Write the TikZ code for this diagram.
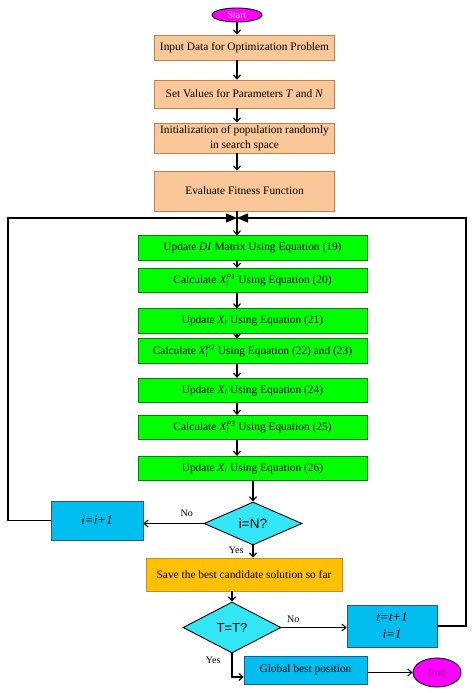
\documentclass[tikz,border=0pt]{standalone}
\usepackage{fontspec}
\setmainfont{Liberation Serif}
\newfontfamily\arialfont{Liberation Sans}
\usetikzlibrary{shapes.geometric,arrows.meta}
\definecolor{peach}{RGB}{250,200,152}
\definecolor{peachline}{RGB}{190,130,80}
\definecolor{lime}{RGB}{0,255,0}
\definecolor{limeline}{RGB}{0,130,0}
\definecolor{skyfill}{RGB}{0,190,240}
\definecolor{aquafill}{RGB}{50,230,245}
\definecolor{skyline}{RGB}{30,90,140}
\definecolor{gold}{RGB}{255,192,0}
\definecolor{goldline}{RGB}{200,140,40}
\definecolor{pinkfill}{RGB}{255,0,255}
\definecolor{plum}{RGB}{150,0,150}
\newcommand{\xsub}{$\mathit{X}_{\mathit{i}}$}
\newcommand{\xsup}[1]{$\mathit{X}_{\mathit{i}}^{\mathit{#1}}$}
\begin{document}
\begin{tikzpicture}[x=1pt, y=-1pt, line width=1.1pt,
  every node/.style={inner sep=0pt, font=\fontsize{11.4}{15}\selectfont},
  orangebox/.style={draw=peachline, line width=0.7pt, fill=peach, minimum width=180pt, align=center},
  greenbox/.style={draw=limeline, line width=0.7pt, fill=lime, minimum width=229pt, minimum height=24.5pt},
  bluebox/.style={draw=skyline, line width=0.7pt, fill=skyfill, align=center},
  goldbox/.style={draw=goldline, line width=0.7pt, fill=gold},
  decision/.style={diamond, aspect=2.2, draw=black, line width=0.9pt, fill=aquafill, font=\arialfont\fontsize{13.5}{15}\selectfont},
  terminal/.style={ellipse, draw=black, line width=0.9pt, fill=pinkfill},
  counter/.style={font=\itshape\fontsize{13}{17}\selectfont},
  lbl/.style={font=\fontsize{10}{12}\selectfont},
  arr/.style={-{Straight Barb[length=4pt,width=7pt]}},
  looparr/.style={-{Triangle[length=11pt,width=9pt]}}]
  \useasboundingbox (0,0) rectangle (474,693);

  \node[terminal, minimum width=50pt, minimum height=14pt, text=magenta!25!white, font=\fontsize{10}{12}\selectfont] (start) at (237,15) {Start};
  \node[orangebox, minimum height=25pt] (input) at (244.5,47.5) {Input Data for Optimization Problem};
  \node[orangebox, minimum height=28pt] (param) at (244.5,94) {Set Values for Parameters \textit{T} and \textit{N}};
  \node[orangebox, minimum height=30pt] (init) at (244.5,138) {Initialization of population randomly\\in search space};
  \node[orangebox, minimum height=40pt] (fit) at (244.5,191) {Evaluate Fitness Function};

  \node[greenbox] (g1) at (252.5,248) {Update \textit{DI} Matrix Using Equation (19)};
  \node[greenbox] (g2) at (252.5,280.5) {Calculate \xsup{P1} Using Equation (20)};
  \node[greenbox] (g3) at (252.5,321) {Update \xsub{} Using Equation (21)};
  \node[greenbox] (g4) at (252.5,351) {Calculate \xsup{P2} Using Equation (22) and (23)};
  \node[greenbox] (g5) at (252.5,390.5) {Update \xsub{} Using Equation (24)};
  \node[greenbox] (g6) at (252.5,427.5) {Calculate \xsup{P3} Using Equation (25)};
  \node[greenbox] (g7) at (252.5,468.5) {Update \xsub{} Using Equation (26)};

  \node[decision, minimum width=98pt, minimum height=43pt] (lastpop) at (253,523.5) {i=N?};
  \node[bluebox, counter, minimum width=92pt, minimum height=39pt] (nexti) at (97,520.5) {i=i+1};
  \node[goldbox, minimum width=196pt, minimum height=33pt] (save) at (244,574.5) {Save the best candidate solution so far};
  \node[decision, minimum width=98pt, minimum height=51pt, font=\arialfont\fontsize{13}{15}\selectfont] (lastit) at (232,627.5) {T=T?};
  \node[bluebox, counter, minimum width=90pt, minimum height=42pt] (nextt) at (392,626) {t=t+1\\i=1};
  \node[bluebox, minimum width=123pt, minimum height=28pt] (best) at (305.5,670) {Global best position};
  \node[terminal, minimum width=48pt, minimum height=29pt, text=plum, font=\fontsize{11}{13}\selectfont] (stop) at (437,672.5) {End};

  \coordinate (join) at (237,218);
  \coordinate (lft) at (8,218);
  \coordinate (rgt) at (466,218);

  \foreach \a/\b in {start/input, input/param, param/init, init/fit, fit/g1, g1/g2, g2/g3, g3/g4, g4/g5, g5/g6, g6/g7}
    \draw[arr] (\a.south -| join) -- (\b.north -| join);
  \draw[arr] (g7.south -| lastpop) -- (lastpop.north);
  \draw[arr] (lastpop.west) -- node[lbl, pos=0.28, above=6pt] {No} (nexti.east |- lastpop.west);
  \draw[looparr] (nexti.west) -| (lft) -- (join);
  \draw[arr] (lastpop.south) -- node[lbl, pos=0.4, left=9pt] {Yes} (lastpop.south |- save.north);
  \draw[arr] (save.south -| lastit) -- (lastit.north);
  \draw[arr] (lastit.east) -- node[lbl, pos=0.18, above=4pt] {No} (nextt.west |- lastit.east);
  \draw[looparr] (nextt.east) -| (rgt) -- (join);
  \draw[arr] (lastit.south) |- node[lbl, pos=0.15, left=11pt] {Yes} ([yshift=-7pt]best.west);
  \draw[arr] (best.east |- stop) -- (stop);
\end{tikzpicture}
\end{document}
